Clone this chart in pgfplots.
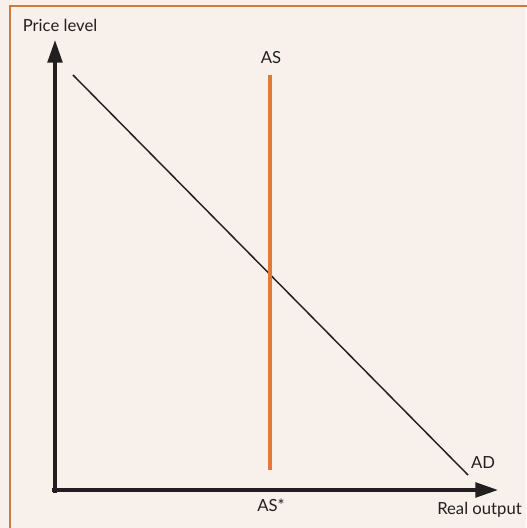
\documentclass[border=0pt]{standalone}
\usepackage{pgfplots}
\pgfplotsset{compat=1.18}
\usepackage{fontspec}
\setmainfont{Lato}
\usetikzlibrary{arrows.meta}
\definecolor{bg}{HTML}{F8F1EB}
\definecolor{frame}{HTML}{CC7A3E}
\definecolor{asorange}{HTML}{E07A3C}
\definecolor{ink}{HTML}{231F20}
\begin{document}
\begin{tikzpicture}[x=0.75pt,y=0.75pt]
\path[use as bounding box] (0,0) rectangle (526,528);
\begin{axis}[
  at={(0,0)}, anchor=south west,
  scale only axis, width=394.5pt, height=396pt,
  xmin=0, xmax=526, ymin=0, ymax=528,
  hide axis, clip=false,
  axis background/.style={fill=bg},
]
\draw[frame, line width=1.6pt] (axis cs:10,-20) rectangle (axis cs:560,522);
\addplot[ink, line width=2.6pt, -{Triangle[length=17pt,width=11pt]}] coordinates {(55,35) (55,488)};
\addplot[ink, line width=2.6pt, -{Triangle[length=17pt,width=11pt]}] coordinates {(52,38) (498,38)};
\addplot[ink, line width=1.1pt] coordinates {(73,453) (468,53)};
\addplot[asorange, line width=2.3pt] coordinates {(270,453) (270,58)};
\node[font=\fontsize{12.5}{14}\selectfont, text=ink] at (axis cs:60,503) {Price level};
\node[font=\fontsize{12.5}{14}\selectfont, text=ink] at (axis cs:271,470) {AS};
\node[font=\fontsize{12.5}{14}\selectfont, text=ink] at (axis cs:483,65) {AD};
\node[font=\fontsize{12.5}{14}\selectfont, text=ink] at (axis cs:271,23) {AS*};
\node[font=\fontsize{12.5}{14}\selectfont, text=ink, anchor=west, inner sep=0pt] at (axis cs:437,18) {Real output};
\end{axis}
\end{tikzpicture}
\end{document}
